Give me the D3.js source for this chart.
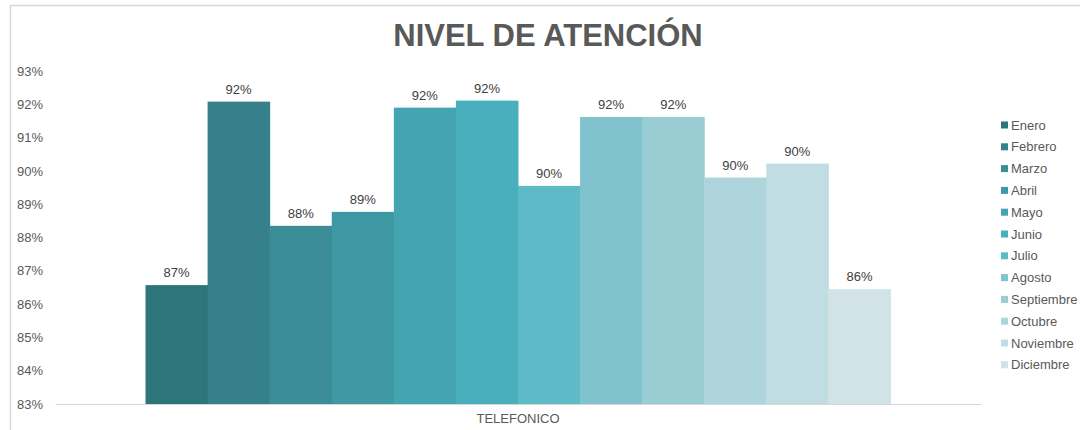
<!DOCTYPE html>
<html>
<head>
<meta charset="utf-8">
<script src="https://cdn.jsdelivr.net/npm/d3@7"></script>
<style>
  html, body { margin: 0; padding: 0; background: #fff; }
  svg { display: block; font-family: "Liberation Sans", Arial, sans-serif; }
</style>
</head>
<body>
<svg id="chart" width="1080" height="430"></svg>
<script>
const title = "NIVEL DE ATENCIÓN";
const category = "TELEFONICO";
const months = ["Enero","Febrero","Marzo","Abril","Mayo","Junio","Julio","Agosto","Septiembre","Octubre","Noviembre","Diciembre"];
const values = [0.8657, 0.9208, 0.8835, 0.8877, 0.9190, 0.9211, 0.8955, 0.9162, 0.9162, 0.8980, 0.9022, 0.8645];
const colors = ["#2E747B","#35808A","#3B8E98","#3F99A4","#44A4B1","#4AAFBD","#5EBAC7","#80C2CE","#9ACCD4","#AED5DC","#C0DDE3","#D1E3E7"];
const yTicks = [0.83,0.84,0.85,0.86,0.87,0.88,0.89,0.90,0.91,0.92,0.93];

const svg = d3.select("#chart");

// chart border
svg.append("rect").attr("x", 10.5).attr("y", 5.5).attr("width", 1100).attr("height", 500)
  .attr("fill", "none").attr("stroke", "#d9d9d9").attr("stroke-width", 1.5);

const pLeft = 55, pRight = 981, pTop = 71, pBottom = 404;

const y = d3.scaleLinear().domain([0.83, 0.93]).range([pBottom, pTop]);
const x0 = d3.scaleBand().domain([category]).range([pLeft, pRight]).paddingInner(0).paddingOuter(0.1215);
const x1 = d3.scaleBand().domain(months).range([0, x0.bandwidth()]).padding(0);

// title
svg.append("text").attr("x", 548).attr("y", 46).attr("text-anchor", "middle")
  .attr("font-size", 31).attr("font-weight", "bold").attr("fill", "#595959").text(title);

// y axis labels
const yAxis = d3.axisLeft(y).tickValues(yTicks).tickFormat(d3.format(".0%")).tickSize(0).tickPadding(0);
const yg = svg.append("g").attr("transform", `translate(${43},0)`).call(yAxis);
yg.select(".domain").remove();
yg.selectAll("text").attr("font-size", 13).attr("fill", "#595959")
  .attr("font-family", "Liberation Sans, Arial, sans-serif");

// bars
const g = svg.append("g").attr("transform", `translate(${x0(category)},0)`);
g.selectAll("rect").data(months).join("rect")
  .attr("x", (d) => x1(d))
  .attr("width", x1.bandwidth() + 0.5)
  .attr("y", (d, i) => y(values[i]))
  .attr("height", (d, i) => pBottom - y(values[i]))
  .attr("fill", (d, i) => colors[i]);

// data labels
g.selectAll("text.lbl").data(months).join("text").attr("class", "lbl")
  .attr("x", (d) => x1(d) + x1.bandwidth() / 2)
  .attr("y", (d, i) => y(values[i]) - 8)
  .attr("text-anchor", "middle").attr("font-size", 13).attr("fill", "#404040")
  .text((d, i) => d3.format(".0%")(values[i]));

// x axis
const xAxis = d3.axisBottom(x0).tickSize(0).tickPadding(0);
const xg = svg.append("g").attr("transform", `translate(0,${pBottom})`).call(xAxis);
xg.select(".domain").attr("stroke", "#d9d9d9").attr("stroke-width", 1.2);
xg.selectAll("text").attr("font-size", 13).attr("fill", "#595959").attr("dy", "1.45em")
  .attr("font-family", "Liberation Sans, Arial, sans-serif");

// legend
const lg = svg.append("g");
const rowH = 21.8;
months.forEach((m, i) => {
  const cy = 125 + i * rowH;
  lg.append("rect").attr("x", 1001).attr("y", cy - 3.5).attr("width", 7).attr("height", 7).attr("fill", colors[i]);
  lg.append("text").attr("x", 1011).attr("y", cy + 4.5).attr("font-size", 13).attr("fill", "#595959").text(m);
});
</script>
</body>
</html>
